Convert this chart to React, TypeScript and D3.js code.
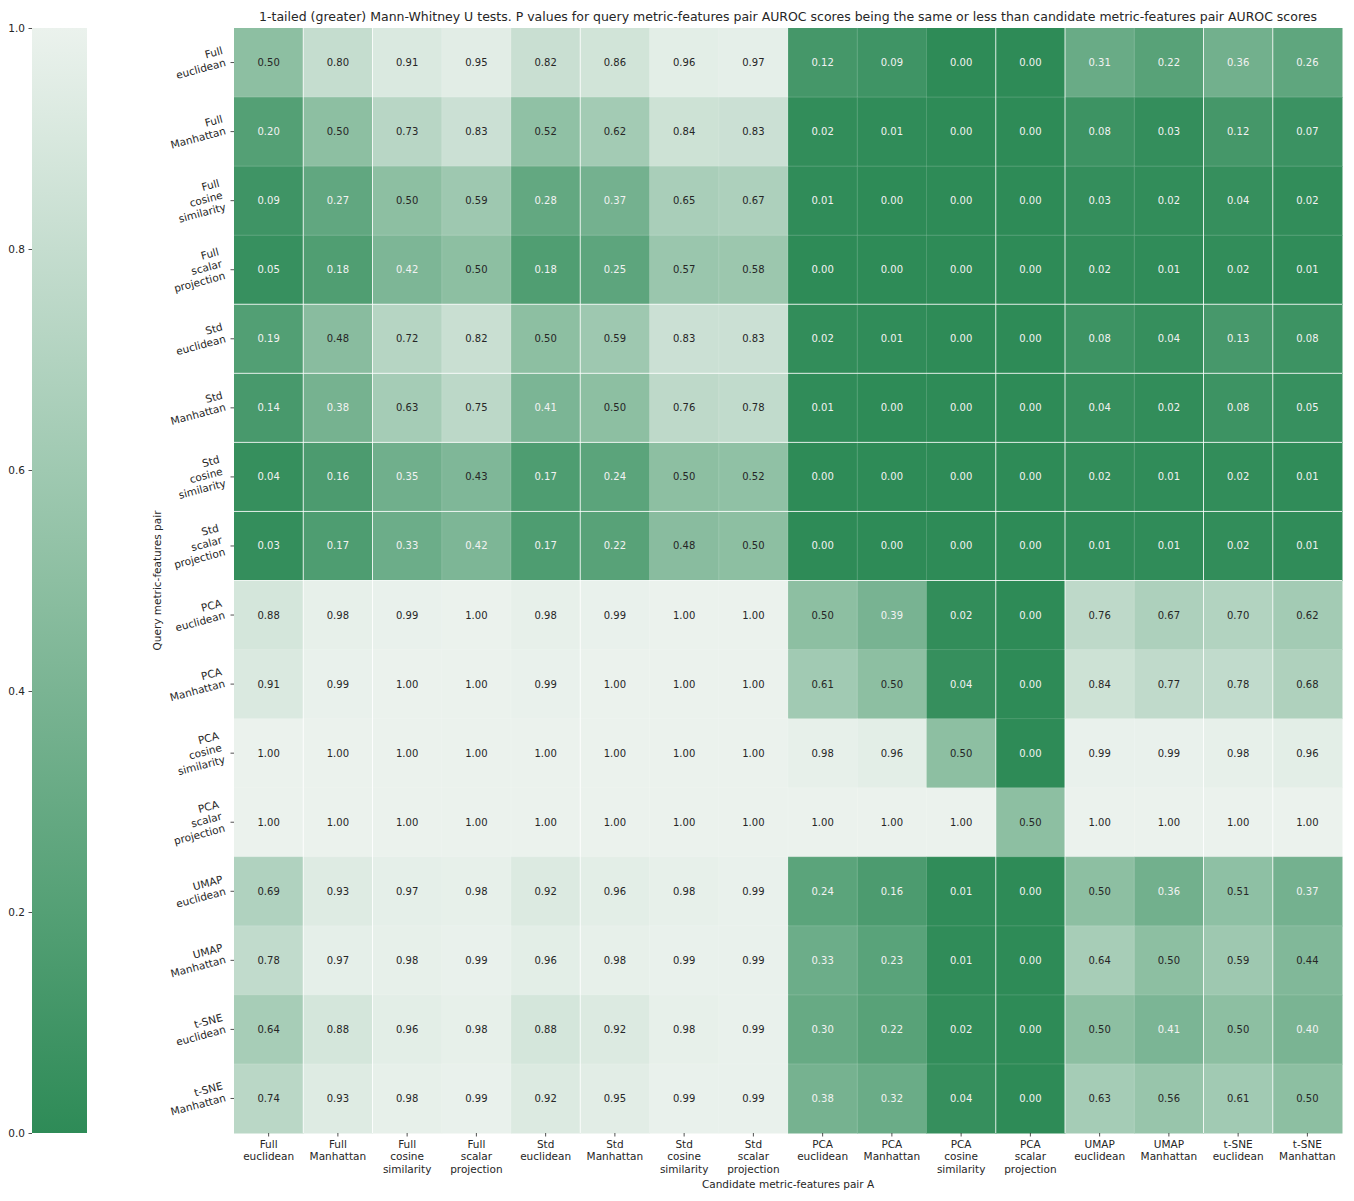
import React, { useEffect, useRef } from 'react';
import * as d3 from 'd3';

// query (rows) and candidate (columns) metric-features pairs
const pairLabels = [
  'Full\neuclidean', 'Full\nManhattan', 'Full\ncosine\nsimilarity', 'Full\nscalar\nprojection',
  'Std\neuclidean', 'Std\nManhattan', 'Std\ncosine\nsimilarity', 'Std\nscalar\nprojection',
  'PCA\neuclidean', 'PCA\nManhattan', 'PCA\ncosine\nsimilarity', 'PCA\nscalar\nprojection',
  'UMAP\neuclidean', 'UMAP\nManhattan', 't-SNE\neuclidean', 't-SNE\nManhattan',
];

// p values, one row per query pair
const pValues = [
  [0.50, 0.80, 0.91, 0.95, 0.82, 0.86, 0.96, 0.97, 0.12, 0.09, 0.00, 0.00, 0.31, 0.22, 0.36, 0.26],
  [0.20, 0.50, 0.73, 0.83, 0.52, 0.62, 0.84, 0.83, 0.02, 0.01, 0.00, 0.00, 0.08, 0.03, 0.12, 0.07],
  [0.09, 0.27, 0.50, 0.59, 0.28, 0.37, 0.65, 0.67, 0.01, 0.00, 0.00, 0.00, 0.03, 0.02, 0.04, 0.02],
  [0.05, 0.18, 0.42, 0.50, 0.18, 0.25, 0.57, 0.58, 0.00, 0.00, 0.00, 0.00, 0.02, 0.01, 0.02, 0.01],
  [0.19, 0.48, 0.72, 0.82, 0.50, 0.59, 0.83, 0.83, 0.02, 0.01, 0.00, 0.00, 0.08, 0.04, 0.13, 0.08],
  [0.14, 0.38, 0.63, 0.75, 0.41, 0.50, 0.76, 0.78, 0.01, 0.00, 0.00, 0.00, 0.04, 0.02, 0.08, 0.05],
  [0.04, 0.16, 0.35, 0.43, 0.17, 0.24, 0.50, 0.52, 0.00, 0.00, 0.00, 0.00, 0.02, 0.01, 0.02, 0.01],
  [0.03, 0.17, 0.33, 0.42, 0.17, 0.22, 0.48, 0.50, 0.00, 0.00, 0.00, 0.00, 0.01, 0.01, 0.02, 0.01],
  [0.88, 0.98, 0.99, 1.00, 0.98, 0.99, 1.00, 1.00, 0.50, 0.39, 0.02, 0.00, 0.76, 0.67, 0.70, 0.62],
  [0.91, 0.99, 1.00, 1.00, 0.99, 1.00, 1.00, 1.00, 0.61, 0.50, 0.04, 0.00, 0.84, 0.77, 0.78, 0.68],
  [1.00, 1.00, 1.00, 1.00, 1.00, 1.00, 1.00, 1.00, 0.98, 0.96, 0.50, 0.00, 0.99, 0.99, 0.98, 0.96],
  [1.00, 1.00, 1.00, 1.00, 1.00, 1.00, 1.00, 1.00, 1.00, 1.00, 1.00, 0.50, 1.00, 1.00, 1.00, 1.00],
  [0.69, 0.93, 0.97, 0.98, 0.92, 0.96, 0.98, 0.99, 0.24, 0.16, 0.01, 0.00, 0.50, 0.36, 0.51, 0.37],
  [0.78, 0.97, 0.98, 0.99, 0.96, 0.98, 0.99, 0.99, 0.33, 0.23, 0.01, 0.00, 0.64, 0.50, 0.59, 0.44],
  [0.64, 0.88, 0.96, 0.98, 0.88, 0.92, 0.98, 0.99, 0.30, 0.22, 0.02, 0.00, 0.50, 0.41, 0.50, 0.40],
  [0.74, 0.93, 0.98, 0.99, 0.92, 0.95, 0.99, 0.99, 0.38, 0.32, 0.04, 0.00, 0.63, 0.56, 0.61, 0.50],
];

const colorbarTicks = [0, 0.2, 0.4, 0.6, 0.8, 1.0];

const TITLE = '1-tailed (greater) Mann-Whitney U tests. P values for query metric-features pair AUROC scores being the same or less than candidate metric-features pair AUROC scores';
const X_TITLE = 'Candidate metric-features pair A';
const Y_TITLE = 'Query metric-features pair';

// cell seams that show up bright in the original render
const strongCols = [1, 2, 5, 11, 12, 14, 15];
const strongRows = [4, 5, 6, 7, 8];

const FONT = '"DejaVu Sans", sans-serif';

const App = () => {
  const ref = useRef<SVGSVGElement>(null);

  useEffect(() => {
    const svg = d3.select(ref.current);
    svg.selectAll('*').remove();

    const left = 234, right = 1342, top = 28, bottom = 1133;
    const cb = { x0: 32, x1: 87 };

    const ids = pairLabels.map((_, i) => i);
    const x = d3.scaleBand<number>().domain(ids).range([left, right]);
    const y = d3.scaleBand<number>().domain(ids).range([top, bottom]);
    const color = d3.scaleLinear<string>().domain([0, 1]).range(['#2e8b57', '#ebf2ed']).interpolate(d3.interpolateRgb);

    const cells = pValues.flatMap((row, r) => row.map((v, c) => ({ r, c, v })));

    const g = svg.append('g');
    g.selectAll('rect.cell')
      .data(cells)
      .enter()
      .append('rect')
      .attr('class', 'cell')
      .attr('x', d => x(d.c)!)
      .attr('y', d => y(d.r)!)
      .attr('width', x.bandwidth() + 0.5)
      .attr('height', y.bandwidth() + 0.5)
      .attr('fill', d => color(d.v));

    // seams
    ids.slice(1).forEach(i => {
      g.append('line')
        .attr('x1', x(i)!).attr('x2', x(i)!)
        .attr('y1', top).attr('y2', bottom)
        .attr('stroke', '#fff').attr('stroke-width', 1)
        .attr('stroke-opacity', strongCols.includes(i) ? 0.85 : 0.15);
      g.append('line')
        .attr('y1', y(i)!).attr('y2', y(i)!)
        .attr('x1', left).attr('x2', right)
        .attr('stroke', '#fff').attr('stroke-width', 1)
        .attr('stroke-opacity', strongRows.includes(i) ? 0.85 : 0.15);
    });

    // annotations
    g.selectAll('text.annot')
      .data(cells)
      .enter()
      .append('text')
      .attr('class', 'annot')
      .attr('x', d => x(d.c)! + x.bandwidth() / 2)
      .attr('y', d => y(d.r)! + y.bandwidth() / 2)
      .attr('dy', '0.35em')
      .attr('text-anchor', 'middle')
      .attr('font-family', FONT)
      .attr('font-size', 10)
      .attr('fill', d => (d.v >= 0.425 ? '#262626' : '#f2f2f2'))
      .text(d => d.v.toFixed(2));

    // x axis
    const xAxis = svg.append('g');
    ids.forEach(i => {
      const cx = x(i)! + x.bandwidth() / 2;
      xAxis.append('line')
        .attr('x1', cx).attr('x2', cx).attr('y1', bottom).attr('y2', bottom + 3.5)
        .attr('stroke', '#262626').attr('stroke-width', 0.8);
      const t = xAxis.append('text')
        .attr('x', cx).attr('y', bottom + 15)
        .attr('text-anchor', 'middle')
        .attr('font-family', FONT).attr('font-size', 10.5).attr('fill', '#262626');
      pairLabels[i].split('\n').forEach((line, k) => {
        t.append('tspan').attr('x', cx).attr('dy', k === 0 ? 0 : 12.3).text(line);
      });
    });
    svg.append('text')
      .attr('x', (left + right) / 2).attr('y', 1188)
      .attr('text-anchor', 'middle')
      .attr('font-family', FONT).attr('font-size', 10.5).attr('fill', '#262626')
      .text(X_TITLE);

    // y axis, labels rotated 15 degrees
    const yAxis = svg.append('g');
    ids.forEach(i => {
      const cy = y(i)! + y.bandwidth() / 2;
      yAxis.append('line')
        .attr('x1', left - 3.5).attr('x2', left).attr('y1', cy).attr('y2', cy)
        .attr('stroke', '#262626').attr('stroke-width', 0.8);
      const outer = yAxis.append('g').attr('transform', `translate(${left - 7},${cy})`);
      const inner = outer.append('g').attr('transform', 'rotate(-15)');
      const t = inner.append('text')
        .attr('text-anchor', 'end')
        .attr('font-family', FONT).attr('font-size', 10.5).attr('fill', '#262626');
      pairLabels[i].split('\n').forEach((line, k) => {
        t.append('tspan').attr('x', 0).attr('dy', k === 0 ? 0 : 12.3).text(line);
      });
      const bb = (outer.node() as SVGGElement).getBBox();
      const dx = -(bb.x + bb.width);
      const dy = -(bb.y + bb.height / 2);
      inner.attr('transform', `translate(${dx},${dy}) rotate(-15)`);
    });
    svg.append('text')
      .attr('transform', `translate(161,${(top + bottom) / 2}) rotate(-90)`)
      .attr('text-anchor', 'middle')
      .attr('font-family', FONT).attr('font-size', 10.5).attr('fill', '#262626')
      .text(Y_TITLE);

    // title
    svg.append('text')
      .attr('x', (left + right) / 2).attr('y', 21)
      .attr('text-anchor', 'middle')
      .attr('font-family', FONT).attr('font-size', 12.5).attr('fill', '#262626')
      .text(TITLE);

    // colorbar
    const cbScale = d3.scaleLinear().domain([0, 1]).range([bottom, top]);
    const grad = svg.append('defs').append('linearGradient')
      .attr('id', 'cbgrad').attr('x1', 0).attr('x2', 0).attr('y1', 1).attr('y2', 0);
    d3.range(0, 1.001, 0.1).forEach(t => {
      grad.append('stop').attr('offset', t).attr('stop-color', color(t));
    });
    svg.append('rect')
      .attr('x', cb.x0).attr('y', top)
      .attr('width', cb.x1 - cb.x0).attr('height', bottom - top)
      .attr('fill', 'url(#cbgrad)');
    const cbAxis = svg.append('g')
      .attr('transform', `translate(${cb.x0},0)`)
      .call(d3.axisLeft(cbScale).tickValues(colorbarTicks).tickFormat(d3.format('.1f')).tickSize(3.5).tickPadding(3.5));
    cbAxis.select('.domain').remove();
    cbAxis.selectAll('line').attr('stroke', '#262626').attr('stroke-width', 0.8);
    cbAxis.selectAll('text').attr('font-family', FONT).attr('font-size', 10.5).attr('fill', '#262626');
  }, []);

  return <svg ref={ref} width={1354} height={1201} style={{ display: 'block', position: 'absolute', left: 0, top: 0 }} />;
};

export default App;
